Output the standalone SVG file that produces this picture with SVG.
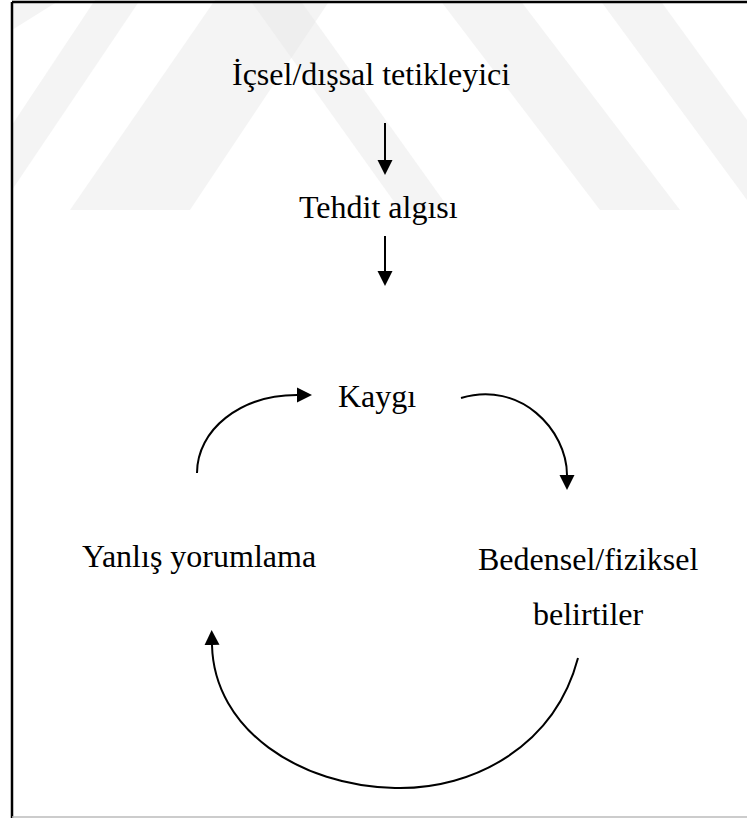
<svg xmlns="http://www.w3.org/2000/svg" width="747" height="818" viewBox="0 0 747 818">
<style>
.t{font-family:"Liberation Serif","Times New Roman",serif;font-size:32px;fill:#000}
.c{fill:none;stroke:#000;stroke-width:2}
.wm{fill:#e6e6e6;opacity:0.45}
</style>
<defs>
<marker id="ah2" viewBox="0 0 10 10" refX="0" refY="5" markerWidth="15" markerHeight="16" markerUnits="userSpaceOnUse" orient="auto">
<path d="M0,0 L10,5 L0,10 Z" fill="#000"/>
</marker>
</defs>
<rect width="747" height="818" fill="#fff"/>
<g id="watermark">
<polygon class="wm" points="12,190 12,125 95,0 140,0"/>
<polygon class="wm" points="70,210 190,210 330,0 215,0"/>
<polygon class="wm" points="250,0 300,0 450,210 400,210"/>
<polygon class="wm" points="440,0 520,0 680,210 600,210"/>
<polygon class="wm" points="600,0 660,0 747,120 747,200"/>
<polygon class="wm" points="12,0 60,0 12,30"/>
</g>
<g id="frame">
<line x1="12" y1="2" x2="747" y2="2" stroke="#000" stroke-width="2.5"/>
<line x1="12" y1="2" x2="12" y2="818" stroke="#000" stroke-width="2.5"/>
<line x1="12" y1="817" x2="747" y2="817" stroke="#bbb" stroke-width="1.5"/>
</g>
<g id="connectors">
<line class="c" x1="385" y1="123" x2="385" y2="160" marker-end="url(#ah2)"/>
<line class="c" x1="385" y1="236" x2="385" y2="271" marker-end="url(#ah2)"/>
<path class="c" d="M197,473 C197,430 240,395 297,395" marker-end="url(#ah2)"/>
<path class="c" d="M461,398 C520,380 567,430 567,475" marker-end="url(#ah2)"/>
<path class="c" d="M578,658 C555,745 475,790 395,788 C300,786 214,730 212,645" marker-end="url(#ah2)"/>
</g>
<g id="n1"><text class="t" x="232" y="85">İçsel/dışsal tetikleyici</text></g>
<g id="n2"><text class="t" x="299" y="218">Tehdit algısı</text></g>
<g id="n3"><text class="t" x="338" y="407">Kaygı</text></g>
<g id="n4"><text class="t" x="82" y="567">Yanlış yorumlama</text></g>
<g id="n5"><text class="t" x="478" y="570">Bedensel/fiziksel</text><text class="t" x="533" y="625">belirtiler</text></g>
</svg>
